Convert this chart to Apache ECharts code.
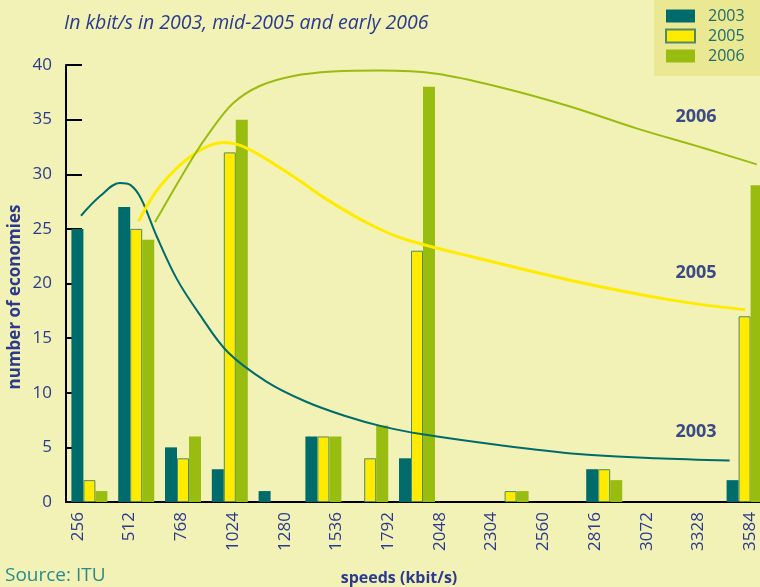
<!DOCTYPE html>
<html>
<head>
<meta charset="utf-8">
<script src="https://cdn.jsdelivr.net/npm/echarts@6/dist/echarts.min.js"></script>
<style>
html,body{margin:0;padding:0;background:#f2f2b6;}
#chart{width:760px;height:587px;}
</style>
</head>
<body>
<div id="chart"></div>
<script>
// tick labels along the speed axis (kbit/s)
var speedLabels = ['256','512','768','1024','1280','1536','1792','2048','2304','2560','2816','3072','3328','3584'];
// the bars sit in 15 slots of the plot (the original labels are spread a little wider)
var barSlots = ['1','2','3','4','5','6','7','8','9','10','11','12','13','14','15'];
var bars2003 = [25, 27, 5, 3, 1, 6, null, 4, null, null, null, 3, null, null, 2];
var bars2005 = [2, 25, 4, 32, null, 6, 4, 23, null, 1, null, 3, null, null, 17];
var bars2006 = [1, 24, 6, 35, null, 6, 7, 38, null, 1, null, 2, null, null, 29];
// trend curves, [slot position, economies]
var trend2003 = [[0.32,26.2],[0.73,28.0],[1.15,29.2],[1.38,29.0],[1.60,27.8],[1.94,24.3],[2.37,20.4],[2.85,17.2],
  [3.46,13.7],[4.29,11.0],[5.12,9.2],[5.95,7.9],[6.78,6.9],[7.62,6.2],[9.28,5.2],[10.94,4.4],[12.60,4.0],[14.18,3.8]];
var trend2005 = [[1.55,25.7],[2.01,28.9],[2.72,31.8],[3.36,32.9],[3.86,32.4],[4.86,29.8],[5.57,27.7],[6.50,25.4],
  [7.21,24.1],[8.63,22.5],[10.77,20.3],[12.91,18.5],[14.51,17.6]];
var trend2006 = [[1.90,25.6],[2.72,31.6],[3.08,33.9],[3.57,36.5],[4.15,38.1],[4.86,39.0],[5.70,39.4],[6.71,39.5],
  [7.92,39.2],[9.34,37.9],[10.77,36.2],[12.19,34.2],[13.62,32.4],[14.76,30.9]];
var yTicks = {min: 0, max: 40, step: 5};

var navy = '#2b3a8e';
var teal = '#006b6b', yellow = '#ffeb00', green = '#99bc10';
var fnt = '"Open Sans", "Noto Sans", sans-serif';

var chart = echarts.init(document.getElementById('chart'));
var option = {
  backgroundColor: '#f2f2b6',
  animation: false,
  textStyle: {fontFamily: fnt},
  graphic: [
    {type: 'rect', shape: {x: 654, y: 0, width: 106, height: 76}, style: {fill: '#ebe893'}, z: -1},
    {type: 'text', x: 64, y: 23, style: {text: 'In kbit/s in 2003, mid-2005 and early 2006', fill: navy,
      font: 'italic 19.5px ' + fnt, textVerticalAlign: 'middle'}},
    {type: 'text', x: 15, y: 297, rotation: Math.PI / 2, style: {text: 'number of economies', fill: navy,
      font: 'bold 17px ' + fnt, textAlign: 'center', textVerticalAlign: 'middle'}},
    {type: 'text', x: 399, y: 578, style: {text: 'speeds (kbit/s)', fill: navy,
      font: 'bold 16px ' + fnt, textAlign: 'center', textVerticalAlign: 'middle'}},
    {type: 'text', x: 5, y: 576, style: {text: 'Source: ITU', fill: '#2a8a8a',
      font: '19px ' + fnt, textVerticalAlign: 'middle'}},
    {type: 'text', x: 696, y: 117, style: {text: '2006', fill: '#3b4a86', font: 'bold 18px ' + fnt, textAlign: 'center', textVerticalAlign: 'middle'}},
    {type: 'text', x: 696, y: 273, style: {text: '2005', fill: '#3b4a86', font: 'bold 18px ' + fnt, textAlign: 'center', textVerticalAlign: 'middle'}},
    {type: 'text', x: 696, y: 432, style: {text: '2003', fill: '#3b4a86', font: 'bold 18px ' + fnt, textAlign: 'center', textVerticalAlign: 'middle'}}
  ],
  legend: {
    data: ['2003', '2005', '2006'],
    orient: 'vertical',
    left: 665, top: 8,
    padding: 0,
    itemWidth: 29, itemHeight: 13, itemGap: 4,
    icon: 'rect',
    textStyle: {color: '#1f6b6b', fontSize: 16, padding: [0, 0, 0, 8]}
  },
  grid: [
    {left: 66, top: 65, width: 702, height: 437, outerBoundsMode: 'none'},
    {left: 52, top: 65, width: 724, height: 437, outerBoundsMode: 'none'}
  ],
  xAxis: [
    {type: 'category', gridIndex: 0, data: barSlots,
      axisLine: {lineStyle: {color: '#000', width: 2}},
      axisTick: {inside: true, length: 11, lineStyle: {color: '#000', width: 2}},
      axisLabel: {show: false}, splitLine: {show: false}},
    {type: 'category', gridIndex: 1, data: speedLabels,
      axisLine: {show: false}, axisTick: {show: false},
      axisLabel: {rotate: 90, interval: 0, margin: 10, color: navy, fontSize: 17}},
    {type: 'value', gridIndex: 0, min: 0, max: 15, show: false}
  ],
  yAxis: [
    {type: 'value', gridIndex: 0, min: yTicks.min, max: yTicks.max, interval: yTicks.step,
      axisLine: {show: true, lineStyle: {color: '#000', width: 2}},
      axisTick: {show: true, inside: true, length: 16, lineStyle: {color: '#000', width: 2}},
      axisLabel: {color: navy, fontSize: 17, margin: 14},
      splitLine: {show: false}},
    {type: 'value', gridIndex: 1, min: 0, max: 40, show: false}
  ],
  series: [
    {name: '2003', type: 'bar', data: bars2003, barWidth: 12, barGap: '0%',
      itemStyle: {color: teal}},
    {name: '2005', type: 'bar', data: bars2005, barWidth: 12, barGap: '0%',
      itemStyle: {color: yellow, borderColor: '#4f8a6a', borderWidth: 1}},
    {name: '2006', type: 'bar', data: bars2006, barWidth: 12, barGap: '0%',
      itemStyle: {color: green}},
    {name: 'trend 2003', type: 'line', xAxisIndex: 2, data: trend2003, smooth: 0.35, symbol: 'none',
      lineStyle: {color: teal, width: 2}},
    {name: 'trend 2005', type: 'line', xAxisIndex: 2, data: trend2005, smooth: 0.35, symbol: 'none',
      lineStyle: {color: yellow, width: 3}},
    {name: 'trend 2006', type: 'line', xAxisIndex: 2, data: trend2006, smooth: 0.35, symbol: 'none',
      lineStyle: {color: green, width: 2}}
  ]
};
chart.setOption(option);
</script>
</body>
</html>
